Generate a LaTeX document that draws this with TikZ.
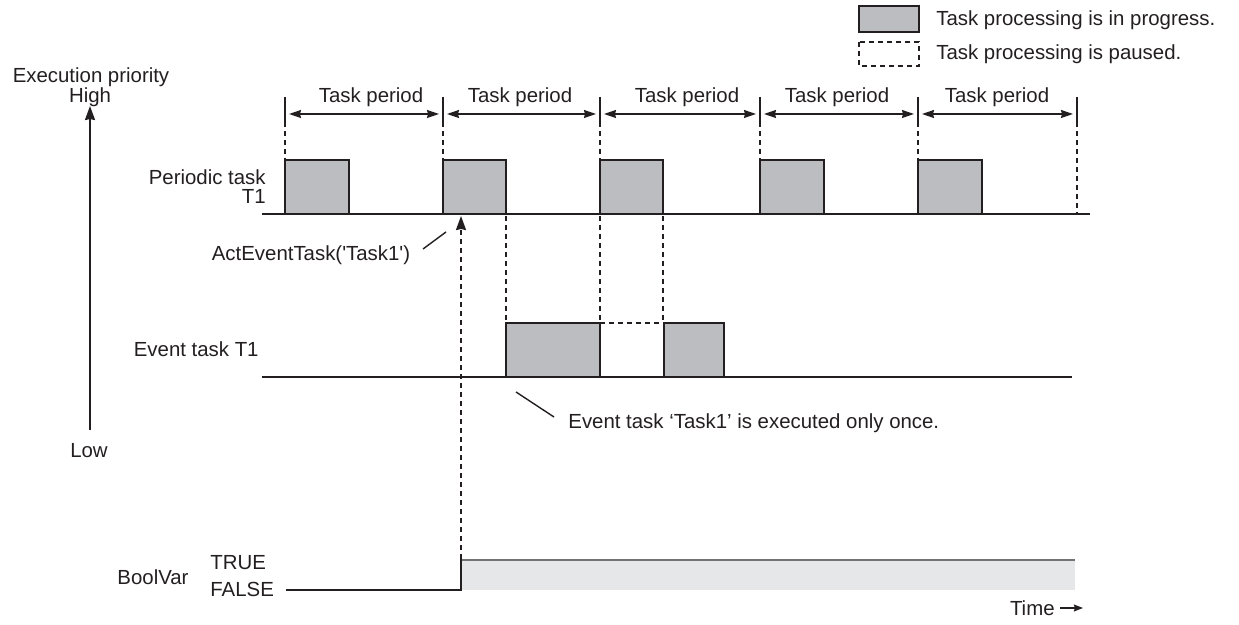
\documentclass[tikz,border=0pt]{standalone}
\usepackage{fontspec}
\setmainfont{Liberation Sans}
\usetikzlibrary{arrows.meta}
\definecolor{taskgray}{RGB}{187,189,192}
\definecolor{boolgray}{RGB}{230,231,232}
\definecolor{inkblack}{RGB}{35,31,32}
\begin{document}
\begin{tikzpicture}[x=0.5pt,y=-0.5pt,
    font=\fontsize{10.2}{11}\selectfont, color=inkblack,
    taskbox/.style={draw=inkblack, line width=1.1pt, fill=taskgray},
    pausebox/.style={draw=inkblack, line width=0.8pt, dash pattern=on 2.5pt off 2pt},
    guide/.style={line width=0.9pt, dash pattern=on 2.5pt off 2pt},
    axisline/.style={line width=0.9pt},
    lead/.style={line width=0.7pt},
    tip/.style={-{Stealth[length=7pt,width=5pt,inset=0.5pt]}},
    smalltip/.style={-{Stealth[length=4.5pt,width=3.4pt,inset=0.4pt]}},
    periodarrow/.style={line width=0.7pt, {Stealth[length=6pt,width=4pt,inset=0.5pt]}-{Stealth[length=6pt,width=4pt,inset=0.5pt]}},
    lbl/.style={inner sep=0pt}]
\useasboundingbox (0,0) rectangle (1239,625);

% Legend
\draw [taskbox] (859,6) rectangle (919,32);
\node [lbl, anchor=west] (legRun) at (936,20) {Task processing is in progress.};
\draw [pausebox] (859,42) rectangle (919,66);
\node [lbl, anchor=west] (legPause) at (936,54) {Task processing is paused.};

% Priority axis
\node [lbl] (prioTitle) at (91,77) {Execution priority};
\node [lbl] (prioHigh) at (90,97) {High};
\node [lbl] (prioLow) at (89,451) {Low};
\draw [axisline, tip] (90,430) -- (90,106);

% Task periods
\foreach \xa/\xb/\xc in {285/443/371, 443/600/520, 600/760/687, 760/918/837, 918/1077/997} {
  \draw [periodarrow] (\xa+4,114) -- (\xb-4,114);
  \node [lbl] at (\xc,97) {Task period};
}
\foreach \xt in {285,443,600,760,918,1077}
  \draw [line width=0.7pt] (\xt,97) -- (\xt,122);
\foreach \xt in {285,443,600,760,918}
  \draw [guide] (\xt,122) -- (\xt,160);
\draw [guide] (1077,122) -- (1077,214);

% Periodic task T1
\node [lbl, anchor=east, align=right, font=\fontsize{10.2}{9.6}\selectfont] (perLbl) at (266,187) {Periodic task\\T1};
\draw [axisline] (262,214) -- (1090,214);
\foreach \xa/\xb in {285/349, 443/506, 600/663, 760/824, 918/982}
  \draw [taskbox] (\xa,214) rectangle (\xb,160);

% Event task T1
\node [lbl, anchor=east] (evLbl) at (259,349) {Event task T1};
\draw [axisline] (262,377) -- (1072,377);
\draw [pausebox] (600,377) rectangle (664,323);
\draw [taskbox] (506,377) rectangle (600,323);
\draw [taskbox] (664,377) rectangle (724,323);
\foreach \xt in {506,600,663}
  \draw [guide] (\xt,216) -- (\xt,323);

% annotations
\node [lbl] (actLbl) at (311,255) {ActEventTask(\textquotesingle Task1\textquotesingle)};
\draw [lead] (423,249) -- (446,232);
\node [lbl, anchor=west] (onceLbl) at (568,423) {Event task `Task1' is executed only once.};
\draw [lead] (516,392) -- (554,417);

% BoolVar
\node [lbl] (boolLbl) at (153,577) {BoolVar};
\node [lbl, anchor=west] (trueLbl) at (210,563) {TRUE};
\node [lbl, anchor=west] (falseLbl) at (210,589) {FALSE};
\fill [boolgray] (461,560) rectangle (1075,590);
\draw [line width=0.7pt, black!55] (461,560) -- (1075,560);
\draw [axisline] (286,590) -- (461,590) -- (461,559.5);
\coordinate (trig) at (461,559);
\coordinate (trigTop) at (461,216);
\draw [guide, tip] (trig) -- (trigTop);

% time axis
\node [lbl, anchor=east] (timeLbl) at (1055,608) {Time};
\coordinate (timeEnd) at (1083,608);
\draw [lead, smalltip] (timeLbl.east) ++(5,0) -- (timeEnd);
\end{tikzpicture}
\end{document}
